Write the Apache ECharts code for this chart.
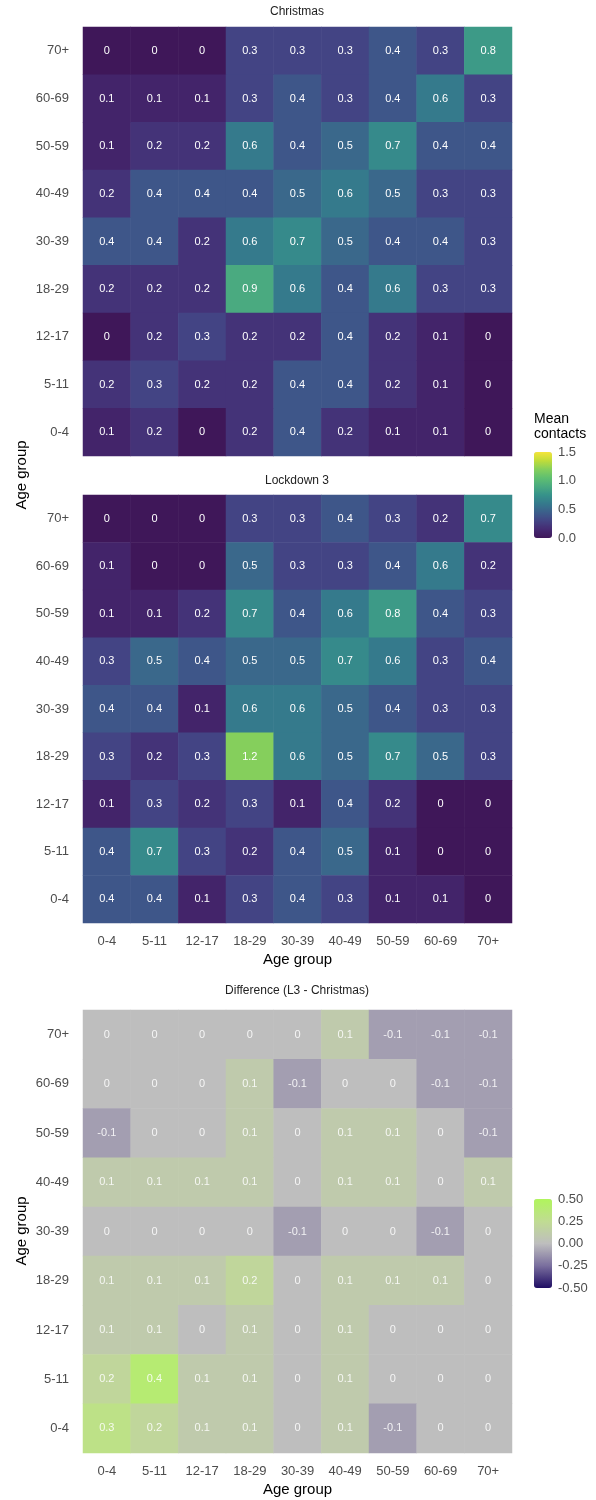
<!DOCTYPE html>
<html>
<head>
<meta charset="utf-8">
<title>Mean contacts by age group</title>
<script src="https://cdn.jsdelivr.net/npm/echarts@6/dist/echarts.min.js"></script>
<style>
html, body { margin: 0; padding: 0; background: #fff; }
#chart { width: 596px; height: 1500px; }
</style>
</head>
<body>
<div id="chart"></div>
<script>
var ageGroups = ['0-4', '5-11', '12-17', '18-29', '30-39', '40-49', '50-59', '60-69', '70+'];

// rows from 70+ (top) down to 0-4 (bottom), columns 0-4 ... 70+
var christmas = [
	[0, 0, 0, 0.3, 0.3, 0.3, 0.4, 0.3, 0.8],
	[0.1, 0.1, 0.1, 0.3, 0.4, 0.3, 0.4, 0.6, 0.3],
	[0.1, 0.2, 0.2, 0.6, 0.4, 0.5, 0.7, 0.4, 0.4],
	[0.2, 0.4, 0.4, 0.4, 0.5, 0.6, 0.5, 0.3, 0.3],
	[0.4, 0.4, 0.2, 0.6, 0.7, 0.5, 0.4, 0.4, 0.3],
	[0.2, 0.2, 0.2, 0.9, 0.6, 0.4, 0.6, 0.3, 0.3],
	[0, 0.2, 0.3, 0.2, 0.2, 0.4, 0.2, 0.1, 0],
	[0.2, 0.3, 0.2, 0.2, 0.4, 0.4, 0.2, 0.1, 0],
	[0.1, 0.2, 0, 0.2, 0.4, 0.2, 0.1, 0.1, 0]
];
var lockdown3 = [
	[0, 0, 0, 0.3, 0.3, 0.4, 0.3, 0.2, 0.7],
	[0.1, 0, 0, 0.5, 0.3, 0.3, 0.4, 0.6, 0.2],
	[0.1, 0.1, 0.2, 0.7, 0.4, 0.6, 0.8, 0.4, 0.3],
	[0.3, 0.5, 0.4, 0.5, 0.5, 0.7, 0.6, 0.3, 0.4],
	[0.4, 0.4, 0.1, 0.6, 0.6, 0.5, 0.4, 0.3, 0.3],
	[0.3, 0.2, 0.3, 1.2, 0.6, 0.5, 0.7, 0.5, 0.3],
	[0.1, 0.3, 0.2, 0.3, 0.1, 0.4, 0.2, 0, 0],
	[0.4, 0.7, 0.3, 0.2, 0.4, 0.5, 0.1, 0, 0],
	[0.4, 0.4, 0.1, 0.3, 0.4, 0.3, 0.1, 0.1, 0]
];
var difference = [
	[0, 0, 0, 0, 0, 0.1, -0.1, -0.1, -0.1],
	[0, 0, 0, 0.1, -0.1, 0, 0, -0.1, -0.1],
	[-0.1, 0, 0, 0.1, 0, 0.1, 0.1, 0, -0.1],
	[0.1, 0.1, 0.1, 0.1, 0, 0.1, 0.1, 0, 0.1],
	[0, 0, 0, 0, -0.1, 0, 0, -0.1, 0],
	[0.1, 0.1, 0.1, 0.2, 0, 0.1, 0.1, 0.1, 0],
	[0.1, 0.1, 0, 0.1, 0, 0.1, 0, 0, 0],
	[0.2, 0.4, 0.1, 0.1, 0, 0.1, 0, 0, 0],
	[0.3, 0.2, 0.1, 0.1, 0, 0.1, -0.1, 0, 0]
];

var meanTicks = [0, 0.5, 1.0, 1.5];
var diffTicks = [-0.5, -0.25, 0, 0.25, 0.5];

var panelTitles = ['Christmas', 'Lockdown 3', 'Difference (L3 - Christmas)'];

(function() {
	var font = '"Liberation Sans", Arial, Helvetica, sans-serif';
	// viridis，稍微褪色一点，和原图接近
	var viridis = ['#3f1759', '#452a72', '#434484', '#3c5f8b', '#357a8c', '#36928a', '#4aaa80', '#5fbf70', '#85cf5c', '#c0dc3a', '#f5e53a'];
	var diverge = ['#1f0d63', '#7a6f9e', '#bebebe', '#c0dc92', '#b0f55c'];

	// 格子数据 [x, y, value]，y 轴从下往上
	var toCells = function(rows) {
		var out = [];
		rows.forEach(function(row, r) {
			var y = ageGroups.length - 1 - r;
			row.forEach(function(v, x) {
				out.push([ x, y, v ]);
			});
		});
		return out;
	};

	var panels = [
		{ top : 27, height : 429, data : christmas },
		{ top : 495, height : 428, data : lockdown3 },
		{ top : 1010, height : 443, data : difference }
	];

	var grid = [];
	var xAxis = [];
	var yAxis = [];
	var series = [];
	panels.forEach(function(p, i) {
		grid.push({ left : 83, top : p.top, width : 429, height : p.height });
		xAxis.push({
			type : 'category',
			gridIndex : i,
			data : ageGroups,
			axisLine : { show : false },
			axisTick : { show : false },
			splitLine : { show : false },
			axisLabel : { show : i > 0, color : '#4d4d4d', fontSize : 13, margin : 12, fontFamily : font },
			name : i > 0 ? 'Age group' : '',
			nameLocation : 'middle',
			nameGap : 29,
			nameTextStyle : { color : '#000', fontSize : 15, fontFamily : font }
		});
		yAxis.push({
			type : 'category',
			gridIndex : i,
			data : ageGroups,
			axisLine : { show : false },
			axisTick : { show : false },
			splitLine : { show : false },
			axisLabel : { color : '#4d4d4d', fontSize : 13, margin : 14, fontFamily : font }
		});
		series.push({
			type : 'heatmap',
			xAxisIndex : i,
			yAxisIndex : i,
			data : toCells(p.data),
			label : {
				show : true,
				color : i === 2 ? 'rgba(255,255,255,0.85)' : '#fff',
				fontSize : 11,
				fontFamily : font,
				formatter : function(param) {
					return String(+param.data[2].toFixed(1));
				}
			},
			emphasis : { disabled : true }
		});
	});

	// 图例色条的刻度
	var legends = [
		{ top : 452, height : 86, ticks : meanTicks, digits : 1 },
		{ top : 1199, height : 89, ticks : diffTicks, digits : 2 }
	];
	legends.forEach(function(l, j) {
		var gi = panels.length + j;
		var min = l.ticks[0];
		var max = l.ticks[l.ticks.length - 1];
		var step = l.ticks[1] - l.ticks[0];
		grid.push({ left : 534, top : l.top, width : 18, height : l.height });
		xAxis.push({ type : 'value', gridIndex : gi, show : false });
		[ 'left', 'right' ].forEach(function(pos) {
			yAxis.push({
				type : 'value',
				gridIndex : gi,
				position : pos,
				min : min,
				max : max,
				interval : step,
				axisLine : { show : false },
				splitLine : { show : false },
				axisTick : { show : true, inside : true, length : 3, lineStyle : { color : '#fff', width : 1 } },
				axisLabel : {
					show : pos === 'right',
					color : '#4d4d4d',
					fontSize : 13,
					margin : 6,
					fontFamily : font,
					formatter : function(v) {
						return v.toFixed(l.digits);
					}
				}
			});
		});
	});

	var graphic = [];
	var titleY = [ 12, 481, 991 ];
	panelTitles.forEach(function(t, i) {
		graphic.push({
			type : 'text',
			x : 297,
			y : titleY[i],
			style : { text : t, fill : '#222', font : '12px ' + font, align : 'center', verticalAlign : 'middle' }
		});
	});
	[ 475, 1231 ].forEach(function(cy) {
		graphic.push({
			type : 'text',
			x : 22,
			y : cy,
			rotation : Math.PI / 2,
			style : { text : 'Age group', fill : '#000', font : '15px ' + font, align : 'center', verticalAlign : 'middle' }
		});
	});
	graphic.push({
		type : 'text',
		x : 534,
		y : 412,
		style : { text : 'Mean\ncontacts', fill : '#000', font : '14px ' + font, lineHeight : 15, align : 'left', verticalAlign : 'top' }
	});

	var options = {
		backgroundColor : '#fff',
		animation : false,
		textStyle : { fontFamily : font },
		grid : grid,
		xAxis : xAxis,
		yAxis : yAxis,
		visualMap : [ {
			type : 'continuous',
			seriesIndex : [ 0, 1 ],
			min : meanTicks[0],
			max : meanTicks[meanTicks.length - 1],
			calculable : false,
			hoverLink : false,
			left : 534,
			top : 452,
			padding : 0,
			itemWidth : 18,
			itemHeight : 86,
			inRange : { color : viridis }
		}, {
			type : 'continuous',
			seriesIndex : [ 2 ],
			min : diffTicks[0],
			max : diffTicks[diffTicks.length - 1],
			calculable : false,
			hoverLink : false,
			left : 534,
			top : 1199,
			padding : 0,
			itemWidth : 18,
			itemHeight : 89,
			inRange : { color : diverge }
		} ],
		graphic : graphic,
		series : series
	};

	var chart = echarts.init(document.getElementById('chart'));
	chart.setOption(options);
})();
</script>
</body>
</html>
